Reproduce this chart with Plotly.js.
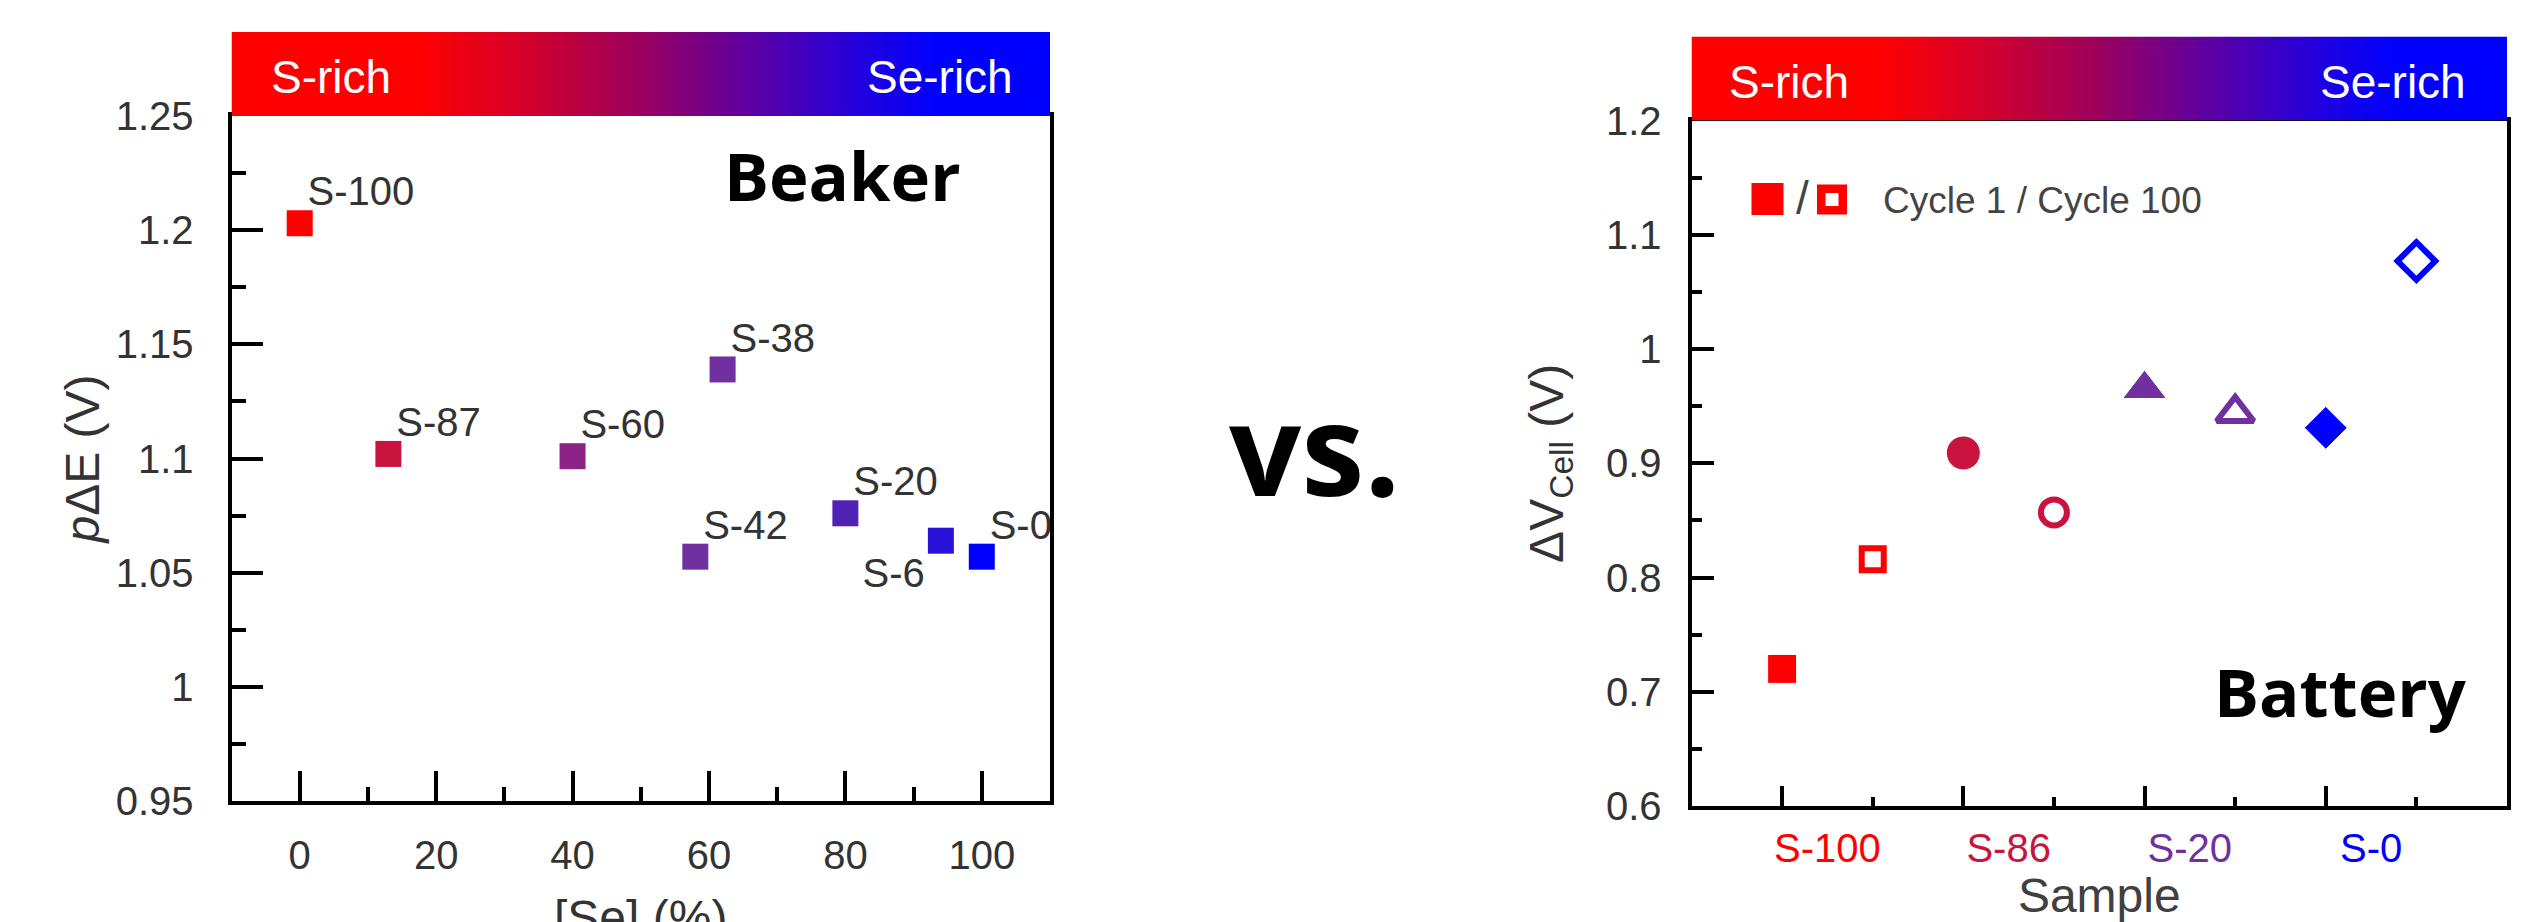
<!DOCTYPE html>
<html>
<head>
<meta charset="utf-8">
<script src="https://cdn.plot.ly/plotly-3.0.1.min.js"></script>
<style>html,body{margin:0;padding:0;background:#fff;}#chart{width:2547px;height:922px;}</style>
</head>
<body>
<div id="chart"></div>
<script>
// ---------- Data: Beaker (left) ----------
const beakerSamples = ['S-100', 'S-87', 'S-60', 'S-38', 'S-42', 'S-20', 'S-6', 'S-0'];
const beakerSe = [0, 13, 40, 62, 58, 80, 94, 100];
const beakerDeltaE = [1.203, 1.102, 1.101, 1.139, 1.057, 1.076, 1.064, 1.057];
const beakerColors = ['#ff0000', '#c8143e', '#8e2386', '#7030a0', '#7030a0', '#5022b6', '#2a12da', '#0000ff'];
const beakerXTicks = [0, 20, 40, 60, 80, 100];
const beakerXMinor = [10, 30, 50, 70, 90];
const beakerYTicks = [0.95, 1, 1.05, 1.1, 1.15, 1.2, 1.25];
const beakerYTickText = ['0.95', '1', '1.05', '1.1', '1.15', '1.2', '1.25'];
const beakerYMinor = [0.975, 1.025, 1.075, 1.125, 1.175, 1.225];

// ---------- Data: Battery (right) ----------
const batterySamples = ['S-100', 'S-86', 'S-20', 'S-0'];
const batteryColors = ['#ff0000', '#c8143e', '#7030a0', '#0000ff'];
const cycle1Pos = [1, 3, 5, 7];
const cycle100Pos = [2, 4, 6, 8];
const labelPos = [1.5, 3.5, 5.5, 7.5];
const cycle1 = [0.720, 0.909, 0.965, 0.931];
const cycle100 = [0.816, 0.857, 0.944, 1.077];
const batteryYTicks = [0.6, 0.7, 0.8, 0.9, 1.0, 1.1, 1.2];
const batteryYTickText = ['0.6', '0.7', '0.8', '0.9', '1', '1.1', '1.2'];
const batteryYMinor = [0.65, 0.75, 0.85, 0.95, 1.05, 1.15];

// ---------- gradient strip ----------
const stripZ = [[0, 1, 2, 3, 4, 5, 6, 7, 8, 9, 10]];

// ---------- styles ----------
const FONT = "'Liberation Sans', Arial, sans-serif";
const BOLD = "'Open Sans', Lato, sans-serif";
const beakerLabelPos = ['top right', 'top right', 'top right', 'top right', 'top right', 'top right', 'bottom left', 'top right'];
const beakerLabelGap = [11, 11, 11, 11, 11, 11, 24, 11];
const stripScale = [[0, '#ff0000'], [0.2, '#ff0000'], [0.35, '#d2002e'], [0.5, '#9a005e'], [0.65, '#5c00a4'], [0.8, '#2000e0'], [0.9, '#0000ff'], [1, '#0000ff']];

const W = 2547, H = 922;
const px = v => v / W;
const py = v => 1 - v / H;

const traces = [
  {
    type: 'scatter', mode: 'markers', xaxis: 'x', yaxis: 'y',
    x: beakerSe, y: beakerDeltaE, name: 'Beaker',
    marker: {symbol: 'square', size: 26, color: beakerColors, opacity: 1},
    showlegend: false
  },
  {
    type: 'scatter', mode: 'markers+text', xaxis: 'x', yaxis: 'y',
    x: beakerSe, y: beakerDeltaE, text: beakerSamples,
    textposition: beakerLabelPos,
    marker: {size: beakerLabelGap, opacity: 0, color: '#fff'},
    textfont: {family: FONT, size: 40, color: '#333'},
    showlegend: false, cliponaxis: false, hoverinfo: 'skip'
  },
  {
    type: 'scatter', mode: 'markers', xaxis: 'x2', yaxis: 'y2',
    x: cycle1Pos, y: cycle1, name: 'Cycle 1',
    marker: {symbol: ['square', 'circle', 'triangle-up', 'diamond'], size: [29, 34, 38, 33], color: batteryColors, opacity: 1},
    showlegend: false
  },
  {
    type: 'scatter', mode: 'markers', xaxis: 'x5', yaxis: 'y2',
    x: cycle100Pos, y: cycle100, name: 'Cycle 100',
    marker: {symbol: ['square-open', 'circle-open', 'triangle-up-open', 'diamond-open'], size: [22, 26, 32, 29], color: batteryColors, opacity: 1, line: {width: 6, color: batteryColors}},
    showlegend: false
  },
  {
    type: 'heatmap', xaxis: 'x3', yaxis: 'y3', z: stripZ, colorscale: stripScale,
    zsmooth: 'best', showscale: false, hoverinfo: 'skip'
  },
  {
    type: 'heatmap', xaxis: 'x4', yaxis: 'y4', z: stripZ, colorscale: stripScale,
    zsmooth: 'best', showscale: false, hoverinfo: 'skip'
  }
];

const leftXDom = [px(231.5), px(1050)];
const leftYDom = [py(801), py(116)];
const rightXDom = [px(1691.5), px(2507)];
const rightYDom = [py(806), py(120.5)];

const frame = {showline: true, mirror: true, linewidth: 4, linecolor: '#000', showgrid: false, zeroline: false,
  ticks: 'inside', tickwidth: 4, tickcolor: '#000'};

const layout = {
  width: W, height: H,
  margin: {l: 0, r: 0, t: 0, b: 0, pad: 0},
  paper_bgcolor: '#fff', plot_bgcolor: 'rgba(0,0,0,0)',
  showlegend: false,
  xaxis: Object.assign({}, frame, {
    domain: leftXDom, anchor: 'y', range: [-10, 110],
    tickmode: 'array', tickvals: beakerXTicks, ticklen: 30,
    minor: {tickmode: 'array', tickvals: beakerXMinor, ticks: 'inside', ticklen: 14, tickwidth: 4, tickcolor: '#000'},
    tickfont: {family: FONT, size: 40, color: '#333'}, ticklabelstandoff: 16
  }),
  yaxis: Object.assign({}, frame, {
    domain: leftYDom, anchor: 'x', range: [0.95, 1.25],
    tickmode: 'array', tickvals: beakerYTicks, ticktext: beakerYTickText, ticklen: 31,
    minor: {tickmode: 'array', tickvals: beakerYMinor, ticks: 'inside', ticklen: 14, tickwidth: 4, tickcolor: '#000'},
    tickfont: {family: FONT, size: 40, color: '#333'}, ticklabelstandoff: 26,
    title: {text: '<i>p</i>ΔE (V)', font: {family: FONT, size: 48, color: '#333'}, standoff: 2}
  }),
  xaxis2: Object.assign({}, frame, {
    domain: rightXDom, anchor: 'y2', range: [0, 9],
    tickmode: 'array', tickvals: cycle1Pos, ticklen: 20,
    minor: {tickmode: 'array', tickvals: cycle100Pos, ticks: 'inside', ticklen: 9, tickwidth: 4, tickcolor: '#000'},
    showticklabels: false
  }),
  xaxis5: {
    domain: rightXDom, anchor: 'y2', overlaying: 'x2', range: [0, 9], side: 'bottom',
    showline: false, showgrid: false, zeroline: false, ticks: '',
    tickmode: 'array', tickvals: labelPos,
    ticktext: batterySamples.map((s, i) => '<span style="color:' + batteryColors[i] + '">' + s + '</span>'),
    tickfont: {family: FONT, size: 40, color: '#333'}, ticklabelstandoff: 15,
    title: {text: 'Sample', font: {family: FONT, size: 48, color: '#404040'}, standoff: 22}
  },
  yaxis2: Object.assign({}, frame, {
    domain: rightYDom, anchor: 'x2', range: [0.6, 1.2],
    tickmode: 'array', tickvals: batteryYTicks, ticktext: batteryYTickText, ticklen: 22,
    minor: {tickmode: 'array', tickvals: batteryYMinor, ticks: 'inside', ticklen: 10, tickwidth: 4, tickcolor: '#000'},
    tickfont: {family: FONT, size: 40, color: '#333'}, ticklabelstandoff: 18,
    title: {text: 'ΔV<sub>Cell</sub> (V)', font: {family: FONT, size: 48, color: '#333'}, standoff: 28}
  }),
  xaxis3: {domain: leftXDom, anchor: 'y3', visible: false, fixedrange: true},
  yaxis3: {domain: [py(116), py(32)], anchor: 'x3', visible: false, fixedrange: true},
  xaxis4: {domain: rightXDom, anchor: 'y4', visible: false, fixedrange: true},
  yaxis4: {domain: [py(120.5), py(36.5)], anchor: 'x4', visible: false, fixedrange: true},
  shapes: [
    {type: 'rect', xref: 'paper', yref: 'paper', x0: px(1751.5), x1: px(1783.5), y0: py(215), y1: py(183),
      fillcolor: '#ff0000', line: {width: 0}},
    {type: 'rect', xref: 'paper', yref: 'paper', x0: px(1821.25), x1: px(1842.75), y0: py(210.25), y1: py(188.75),
      fillcolor: '#fff', line: {width: 8.5, color: '#ff0000'}}
  ],
  annotations: [
    {xref: 'paper', yref: 'paper', x: px(640.75), y: py(889), xanchor: 'center', yanchor: 'top', showarrow: false,
      text: '[Se] (%)', font: {family: FONT, size: 48, color: '#333'}},
    {xref: 'paper', yref: 'paper', x: px(269), y: py(77), xanchor: 'left', yanchor: 'middle', showarrow: false,
      text: 'S-rich', font: {family: FONT, size: 46, color: '#fff'}},
    {xref: 'paper', yref: 'paper', x: px(1015), y: py(77), xanchor: 'right', yanchor: 'middle', showarrow: false,
      text: 'Se-rich', font: {family: FONT, size: 46, color: '#fff'}},
    {xref: 'paper', yref: 'paper', x: px(1727), y: py(82), xanchor: 'left', yanchor: 'middle', showarrow: false,
      text: 'S-rich', font: {family: FONT, size: 46, color: '#fff'}},
    {xref: 'paper', yref: 'paper', x: px(2468), y: py(82), xanchor: 'right', yanchor: 'middle', showarrow: false,
      text: 'Se-rich', font: {family: FONT, size: 46, color: '#fff'}},
    {xref: 'paper', yref: 'paper', x: px(842), y: py(175), xanchor: 'center', yanchor: 'middle', showarrow: false,
      text: 'Beaker', font: {family: BOLD, size: 67, color: '#000', weight: 'bold'}},
    {xref: 'paper', yref: 'paper', x: px(2340), y: py(691), xanchor: 'center', yanchor: 'middle', showarrow: false,
      text: 'Battery', font: {family: BOLD, size: 67, color: '#000', weight: 'bold'}},
    {xref: 'paper', yref: 'paper', x: px(1315), y: py(446), xanchor: 'center', yanchor: 'middle', showarrow: false,
      text: 'vs.', font: {family: BOLD, size: 127, color: '#000', weight: 'bold'}},
    {xref: 'paper', yref: 'paper', x: px(1802), y: py(198), xanchor: 'center', yanchor: 'middle', showarrow: false,
      text: '/', font: {family: FONT, size: 46, color: '#444'}},
    {xref: 'paper', yref: 'paper', x: px(1881), y: py(200), xanchor: 'left', yanchor: 'middle', showarrow: false,
      text: 'Cycle 1 / Cycle 100', font: {family: FONT, size: 37, color: '#444'}}
  ]
};

Plotly.newPlot('chart', traces, layout, {staticPlot: true, displayModeBar: false});
</script>
</body>
</html>
